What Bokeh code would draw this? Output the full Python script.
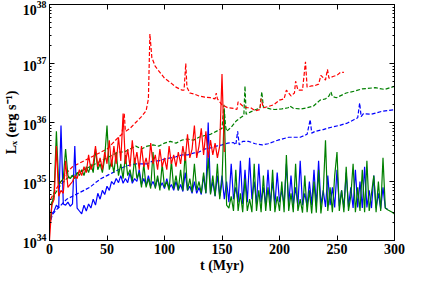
import numpy as np
from bokeh.plotting import figure
from bokeh.models import FixedTicker, LogAxis, LinearAxis, Range1d
from bokeh.embed import file_html
from bokeh.resources import INLINE

# ---- data (log10 of L_X in erg/s) ----
# solid lines sampled every 2 Myr starting at t = 0
solid_step_myr = 2
blue_solid_log = [
    34.25, 34.45, 34.50, 34.60, 34.55, 35.95, 34.62, 34.60, 34.65, 34.58,
    34.62, 35.60, 34.55, 34.50, 34.45, 34.60, 34.50, 34.62, 34.55, 34.70,
    34.60, 34.80, 34.70, 34.85, 34.78, 34.92, 34.85, 35.00, 34.95, 35.05,
    34.98, 35.10, 34.97, 35.05, 34.98, 35.15, 34.97, 35.05, 35.00, 35.20,
    34.95, 35.05, 34.93, 35.10, 34.92, 35.00, 34.90, 35.05, 34.90, 34.98,
    34.88, 35.05, 34.88, 34.95, 34.85, 35.00, 34.85, 34.95, 34.83, 35.15,
    34.85, 34.92, 34.80, 35.00, 34.80, 34.90, 34.78, 35.10, 34.80, 36.00,
    34.80, 35.00, 34.75, 35.10, 34.75, 35.10, 34.70, 35.00, 34.65, 35.30,
    34.70, 34.90, 34.65, 35.35, 34.62, 35.20, 34.65, 35.40, 34.70, 35.00,
    34.62, 35.30, 34.65, 34.90, 34.60, 35.20, 34.62, 35.00, 34.60, 35.15,
    34.65, 34.85, 34.60, 35.30, 34.62, 35.10, 34.60, 34.90, 34.58, 35.35,
    34.60, 34.80, 34.58, 35.00, 34.60, 35.20, 34.58, 35.35, 34.60, 34.85,
    34.57, 35.10, 34.60, 34.90, 34.56, 35.20, 34.58, 34.85, 34.56, 35.15,
    34.57, 34.90, 34.55, 35.20, 34.56, 35.00, 34.55, 35.25, 34.56, 34.85,
    34.55, 35.10, 34.55, 34.80, 34.54, 34.90, 34.55, 34.53,
]
green_solid_log = [
    34.20, 34.60, 34.80, 35.85, 34.95, 35.00, 35.05, 35.55, 35.10, 35.05,
    35.10, 35.05, 35.15, 35.10, 35.20, 35.10, 35.25, 35.15, 35.30, 35.15,
    35.55, 35.20, 35.30, 35.15, 35.40, 35.95, 35.20, 35.35, 35.15, 35.50,
    35.10, 35.30, 35.05, 35.45, 35.10, 35.20, 35.00, 35.40, 35.05, 35.15,
    34.90, 35.30, 34.90, 35.05, 34.88, 35.50, 34.88, 35.10, 34.85, 35.30,
    34.90, 35.00, 34.85, 35.35, 34.88, 35.10, 34.85, 35.20, 34.85, 35.50,
    34.85, 35.05, 34.82, 35.30, 34.85, 35.00, 34.80, 35.15, 34.80, 35.40,
    34.78, 35.10, 34.75, 35.30, 34.70, 35.00, 36.20, 34.60, 34.55, 34.75,
    34.50, 35.20, 34.50, 34.80, 34.48, 35.05, 34.50, 34.70, 34.48, 35.30,
    34.50, 34.85, 34.48, 35.10, 34.50, 34.90, 34.50, 35.20, 34.48, 34.75,
    34.50, 35.00, 34.48, 35.45, 34.50, 34.80, 34.48, 35.30, 34.50, 34.70,
    34.47, 35.10, 34.48, 34.85, 34.46, 35.00, 34.47, 35.20, 34.46, 34.80,
    35.70, 34.50, 34.90, 34.48, 35.10, 35.50, 34.50, 34.85, 34.48, 35.25,
    34.50, 34.75, 35.30, 34.48, 34.90, 34.50, 35.20, 34.48, 35.35, 34.50,
    34.80, 35.10, 34.48, 35.00, 34.50, 35.40, 34.55, 34.52, 34.50, 34.48,
    34.45,
]
red_solid_log = [
    34.00, 34.60, 34.70, 35.60, 34.75, 34.85, 34.80, 35.35, 34.90, 34.95,
    35.00, 35.10, 35.05, 35.20, 35.10, 35.25, 35.15, 35.45, 35.20, 35.30,
    35.60, 35.25, 35.40, 35.20, 35.50, 35.30, 35.70, 35.25, 35.60, 35.30,
    35.75, 35.35, 36.15, 35.30, 35.55, 35.25, 35.70, 35.30, 35.50, 35.20,
    35.60, 35.25, 35.40, 35.20, 35.65, 35.30, 35.45, 35.20, 35.55, 35.25,
    35.40, 35.20, 35.60, 35.30, 35.45, 35.25, 35.50, 35.30, 35.60, 35.35,
    35.80, 35.40, 35.55, 35.95, 35.40, 35.60, 35.90, 35.45, 35.85, 35.40,
    35.70, 35.45, 35.65, 35.40, 35.60, 36.82, 35.50,
]

# dashed lines: (t in Myr, log10 L_X)
red_dash_t = [1, 5, 10, 15, 20, 25, 30, 35, 40, 45, 50, 55, 60, 63, 65, 66,
              70, 75, 80, 84, 86, 87.3, 89, 92, 96, 100, 105, 110, 115, 117,
              118.5, 119.5, 122, 126, 130, 135, 140, 144, 145, 146, 150, 155,
              160, 163, 164, 168, 172, 175, 179, 183, 184, 186, 190, 195,
              200, 204, 206, 210, 213, 214, 216, 220, 222.6, 224, 228, 230,
              234, 236, 240, 241.7, 243, 246.5, 250, 253, 256]
red_dash_log = [34.70, 34.85, 35.00, 35.15, 35.25, 35.30, 35.35, 35.40, 35.45,
                35.50, 35.55, 35.65, 35.75, 35.80, 36.15, 35.85, 35.90, 36.00,
                36.10, 36.20, 36.40, 37.50, 37.10, 36.95, 36.85, 36.75, 36.68,
                36.60, 36.55, 36.55, 37.00, 36.60, 36.50, 36.48, 36.45, 36.43,
                36.42, 36.40, 36.50, 36.40, 36.30, 36.25, 36.24, 36.22, 36.35,
                36.28, 36.25, 36.25, 36.20, 36.22, 36.40, 36.25, 36.27, 36.30,
                36.38, 36.40, 36.55, 36.45, 36.50, 36.70, 36.55, 36.55, 37.03,
                36.60, 36.62, 36.62, 36.65, 36.80, 36.72, 36.90, 36.75, 36.78,
                36.80, 36.85, 36.85]

green_dash_t = [1, 5, 10, 15, 20, 25, 30, 35, 40, 45, 50, 55, 60, 65, 70, 75,
                80, 85, 90, 95, 100, 105, 110, 115, 120, 125, 130, 135, 140,
                145, 150, 151.7, 153, 154, 158, 162.6, 166, 169, 170, 171,
                175, 179.4, 183, 184.6, 186, 187.8, 192, 196, 202, 207.5,
                209, 212, 218.7, 224, 229.6, 235.3, 240, 243, 244.7, 246,
                249.4, 258, 265, 272, 283, 291.5, 301]
green_dash_log = [34.60, 34.80, 34.95, 35.05, 35.10, 35.15, 35.20, 35.25,
                  35.30, 35.35, 35.40, 35.45, 35.50, 35.50, 35.55, 35.60,
                  35.55, 35.60, 35.62, 35.60, 35.65, 35.68, 35.65, 35.70,
                  35.72, 35.70, 35.75, 35.78, 35.80, 35.85, 35.90, 36.30,
                  35.95, 35.85, 35.92, 36.03, 36.08, 36.12, 36.62, 36.14,
                  36.18, 36.22, 36.24, 36.52, 36.26, 36.25, 36.23, 36.22,
                  36.23, 36.25, 36.28, 36.24, 36.23, 36.25, 36.28, 36.38,
                  36.40, 36.45, 36.52, 36.44, 36.42, 36.50, 36.53, 36.57,
                  36.59, 36.56, 36.62]

blue_dash_t = [1, 3, 5, 10, 15, 20, 25, 30, 35, 40, 45, 50, 55, 60, 65, 70,
               75, 80, 85, 90, 95, 100, 105, 110, 115, 120, 125, 130, 135,
               140, 145, 150, 155, 160, 162, 163.6, 165, 168, 173, 179, 185,
               190, 198.6, 208, 218, 224, 226.7, 228, 231, 238, 245, 252,
               259, 265, 268, 269.7, 271, 273, 280, 289, 302]
blue_dash_log = [34.35, 34.45, 34.50, 34.60, 34.70, 34.75, 34.80, 34.85,
                 34.90, 34.98, 35.05, 35.10, 35.15, 35.20, 35.25, 35.28,
                 35.30, 35.30, 35.30, 35.35, 35.35, 35.38, 35.40, 35.42,
                 35.45, 35.45, 35.48, 35.50, 35.55, 35.57, 35.60, 35.62,
                 35.65, 35.66, 35.62, 35.85, 35.62, 35.68, 35.68, 35.64,
                 35.62, 35.64, 35.70, 35.75, 35.75, 35.80, 36.05, 35.82,
                 35.85, 35.88, 35.92, 35.95, 35.99, 36.05, 36.08, 36.33,
                 36.10, 36.15, 36.14, 36.19, 36.22]

x_ticks = [0, 50, 100, 150, 200, 250, 300]
y_decades = [34, 35, 36, 37, 38]

# ---- figure ----
FONT = "Liberation Serif"
p = figure(width=405, height=275, x_range=Range1d(0, 300),
           y_range=Range1d(10.0 ** y_decades[0], 10.0 ** y_decades[-1]),
           y_axis_type="log", output_backend="svg", toolbar_location=None,
           min_border_left=0, min_border_right=11, min_border_top=4,
           min_border_bottom=0)
p.xgrid.visible = False
p.ygrid.visible = False
p.outline_line_color = "black"
p.outline_line_width = 1
p.background_fill_color = "white"
p.border_fill_color = "white"

major_y = [10.0 ** d for d in y_decades]
minor_y = [m * 10.0 ** d for d in y_decades[:-1] for m in range(2, 10)]
yticker = FixedTicker(ticks=major_y, minor_ticks=minor_y)
xticker = FixedTicker(ticks=x_ticks, minor_ticks=[])

def style_axis(ax, show_labels):
    ax.axis_line_color = "black"
    ax.major_tick_in = 5
    ax.major_tick_out = 0
    ax.minor_tick_in = 2
    ax.minor_tick_out = 0
    ax.major_tick_line_color = "black"
    ax.minor_tick_line_color = "black"
    if show_labels:
        ax.major_label_text_font = FONT
        ax.major_label_text_font_style = "bold"
        ax.major_label_text_font_size = "14px"
        ax.major_label_text_color = "black"
        ax.major_label_standoff = 3
        ax.axis_label_text_font = FONT
        ax.axis_label_text_font_style = "bold"
        ax.axis_label_text_font_size = "14px"
        ax.axis_label_text_color = "black"
        ax.axis_label_standoff = 1
    else:
        ax.major_label_text_font_size = "1px"
        ax.major_label_text_color = None
        ax.major_label_standoff = 0

p.xaxis.ticker = xticker
p.yaxis.ticker = yticker
style_axis(p.xaxis[0], True)
style_axis(p.yaxis[0], True)
p.xaxis.axis_label = "t (Myr)"
p.yaxis.axis_label = "Lₓ (erg s⁻¹)"

top = LinearAxis(ticker=xticker)
style_axis(top, False)
p.add_layout(top, "above")
right = LogAxis(ticker=yticker)
style_axis(right, False)
p.add_layout(right, "right")

t_blue = np.arange(len(blue_solid_log)) * solid_step_myr
t_green = np.arange(len(green_solid_log)) * solid_step_myr
t_red = np.arange(len(red_solid_log)) * solid_step_myr

def lin(v):
    return 10.0 ** np.asarray(v)

BLUE, GREEN, RED = "#0000ff", "#008000", "#ff0000"
p.line(blue_dash_t, lin(blue_dash_log), color=BLUE, line_width=1.2, line_dash="4 2")
p.line(green_dash_t, lin(green_dash_log), color=GREEN, line_width=1.2, line_dash="4 2")
p.line(red_dash_t, lin(red_dash_log), color=RED, line_width=1.2, line_dash="4 2")
p.line(t_blue, lin(blue_solid_log), color=BLUE, line_width=1.2)
p.line(t_green, lin(green_solid_log), color=GREEN, line_width=1.2)
p.line(t_red, lin(red_solid_log), color=RED, line_width=1.2)

open("out.html", "w").write(file_html(p, INLINE))
